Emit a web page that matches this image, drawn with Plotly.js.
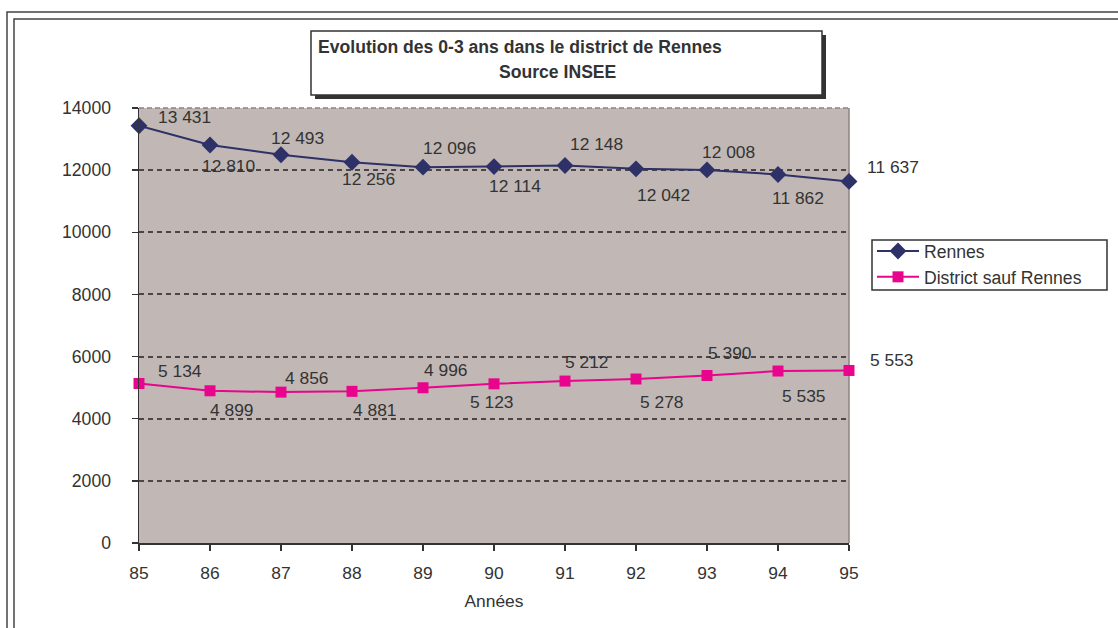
<!DOCTYPE html>
<html>
<head>
<meta charset="utf-8">
<script src="https://cdn.plot.ly/plotly-3.0.1.min.js"></script>
<style>html,body{margin:0;padding:0;background:#fff;}#chart{width:1118px;height:628px;}</style>
</head>
<body>
<div id="chart"></div>
<script>
// ---- data ----
const years = [85, 86, 87, 88, 89, 90, 91, 92, 93, 94, 95];
const rennes = [13431, 12810, 12493, 12256, 12096, 12114, 12148, 12042, 12008, 11862, 11637];
const district = [5134, 4899, 4856, 4881, 4996, 5123, 5212, 5278, 5390, 5535, 5553];
const seriesNames = ["Rennes", "District sauf Rennes"];
const titleLine1 = "Evolution des 0-3 ans dans le district de Rennes";
const titleLine2 = "Source INSEE";
const xTitle = "Années";

// ---- style (label offsets in pixels) ----
const rennesDX = [45, 18, 16, 16, 26, 21, 31, 27, 21, 20, 44];
const rennesDY = [9, -21, 17, -17, 19, -19, 22, -26, 18, -24, 14];
const districtDX = [41, 22, 26, 23, 23, -2, 22, 26, 23, 26, 43];
const districtDY = [12, -19, 14, -19, 18, -18, 19, -23, 23, -25, 10];

const FONT = "Liberation Sans, Arial, sans-serif";
const TXT = "#333333";
const NAVY = "#2E3068";
const MAG = "#E8048C";

// plot area geometry in page pixels
const L = 139, R = 849, T = 108, B = 543;
const W = R - L, H = B - T;
const px = v => (v - L) / W;
const py = v => (B - v) / H;

function fmt(n) {
  return String(n).replace(/\B(?=(\d{3})+(?!\d))/g, " ");
}

const annotations = [];
years.forEach((yr, i) => {
  annotations.push({x: yr, y: rennes[i], xref: "x", yref: "y", text: fmt(rennes[i]),
    showarrow: false, xshift: rennesDX[i], yshift: rennesDY[i],
    font: {family: FONT, size: 17.4, color: TXT}});
  annotations.push({x: yr, y: district[i], xref: "x", yref: "y", text: fmt(district[i]),
    showarrow: false, xshift: districtDX[i], yshift: districtDY[i],
    font: {family: FONT, size: 17.4, color: TXT}});
});
annotations.push({xref: "paper", yref: "paper", x: px(316), y: py(47), xanchor: "left", yanchor: "middle",
  text: "<b>" + titleLine1 + "</b>", showarrow: false, font: {family: FONT, size: 17.6, color: TXT}});
annotations.push({xref: "paper", yref: "paper", x: px(558), y: py(72), xanchor: "center", yanchor: "middle",
  text: "<b>" + titleLine2 + "</b>", showarrow: false, font: {family: FONT, size: 17.6, color: TXT}});

const shapes = [
  // outer double frame
  {type: "rect", xref: "paper", yref: "paper", x0: px(7), x1: px(1140), y0: py(12), y1: py(650),
   line: {color: "#444", width: 1.5}, fillcolor: "rgba(0,0,0,0)", layer: "below"},
  {type: "rect", xref: "paper", yref: "paper", x0: px(14), x1: px(1140), y0: py(19), y1: py(650),
   line: {color: "#444", width: 1.5}, fillcolor: "rgba(0,0,0,0)", layer: "below"},
  // title shadow & box
  {type: "rect", xref: "paper", yref: "paper", x0: px(315), x1: px(826), y0: py(35), y1: py(99),
   line: {width: 0}, fillcolor: "#333333", layer: "above"},
  {type: "rect", xref: "paper", yref: "paper", x0: px(311), x1: px(822), y0: py(31), y1: py(95),
   line: {color: "#333", width: 1.5}, fillcolor: "#ffffff", layer: "above"},
  // legend box
  {type: "rect", xref: "paper", yref: "paper", x0: px(872), x1: px(1107), y0: py(240), y1: py(290),
   line: {color: "#333", width: 1.5}, fillcolor: "#ffffff", layer: "below"},
  // right border of plot area
  {type: "line", xref: "paper", yref: "paper", x0: 1, x1: 1, y0: 0, y1: 1,
   line: {color: "#8C8280", width: 1.5}, layer: "below"},
  // top border of plot area (gray dashed)
  {type: "line", xref: "paper", yref: "paper", x0: 0, x1: 1, y0: 1, y1: 1,
   line: {color: "#8C8280", width: 1.5, dash: "5px,3px"}, layer: "below"}
];

const traces = [
  {x: years, y: rennes, name: seriesNames[0], type: "scatter", mode: "lines+markers",
   line: {color: NAVY, width: 2}, marker: {symbol: "diamond", size: 13, color: NAVY},
   cliponaxis: false},
  {x: years, y: district, name: seriesNames[1], type: "scatter", mode: "lines+markers",
   line: {color: MAG, width: 2}, marker: {symbol: "square", size: 11, color: MAG},
   cliponaxis: false}
];

const layout = {
  width: 1118, height: 628,
  margin: {l: L, r: 1118 - R, t: T, b: 628 - B, pad: 0},
  paper_bgcolor: "#ffffff",
  plot_bgcolor: "#C1B8B5",
  font: {family: FONT, size: 17, color: TXT},
  showlegend: true,
  legend: {x: px(872), y: py(233), xanchor: "left", yanchor: "top",
    bgcolor: "rgba(0,0,0,0)", borderwidth: 0, itemwidth: 42,
    font: {family: FONT, size: 17.6, color: TXT}, tracegroupgap: 0},
  xaxis: {range: [85, 95], tickmode: "array", tickvals: years, ticktext: years.map(String),
    showgrid: false, zeroline: false, showline: true, linecolor: "#333", linewidth: 1.5,
    ticks: "outside", ticklen: 6, tickcolor: "#333", tickwidth: 1.5,
    tickfont: {family: FONT, size: 17.4, color: TXT}, ticklabelstandoff: 8,
    title: {text: xTitle, font: {family: FONT, size: 17.4, color: TXT}, standoff: 12},
    fixedrange: true},
  yaxis: {range: [0, 14000], tickmode: "linear", tick0: 0, dtick: 2000, tickformat: "d",
    showgrid: true, gridcolor: "#4a4646", gridwidth: 2, griddash: "5px,4px",
    zeroline: false, showline: true, linecolor: "#333", linewidth: 1.5,
    ticks: "outside", ticklen: 6, tickcolor: "#333", tickwidth: 1.5,
    tickfont: {family: FONT, size: 17.6, color: TXT}, ticklabelstandoff: 17,
    fixedrange: true},
  annotations: annotations,
  shapes: shapes
};

Plotly.newPlot("chart", traces, layout, {staticPlot: true, displayModeBar: false});
</script>
</body>
</html>
